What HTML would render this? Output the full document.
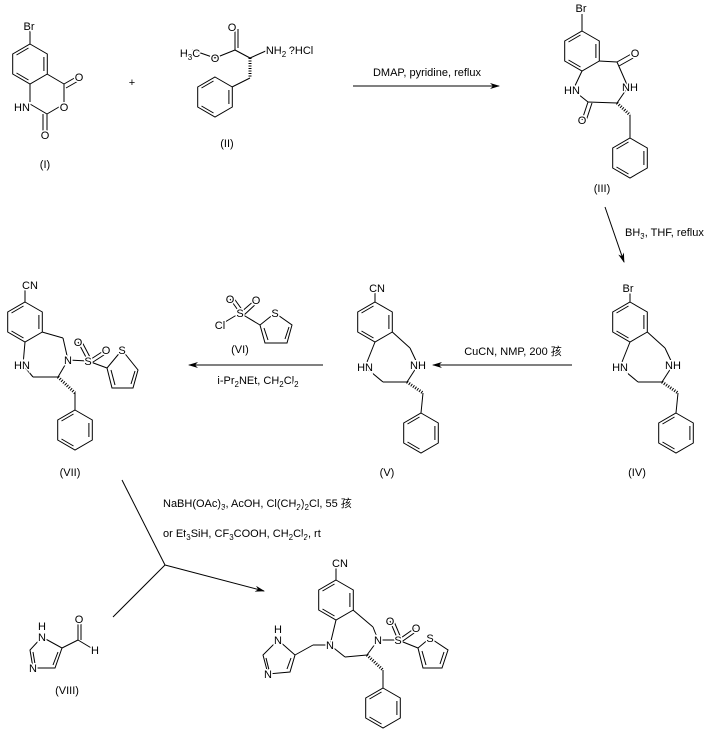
<!DOCTYPE html>
<html><head><meta charset="utf-8"><style>
html,body{margin:0;padding:0;background:#fff}
svg{display:block}
text{font-family:"Liberation Sans","Noto Sans CJK SC",sans-serif;font-size:11px;fill:#000;stroke:#fff;stroke-width:3px;paint-order:stroke;text-anchor:middle}
.l{text-anchor:start}
line,polyline,polygon{stroke:#000;stroke-width:1;fill:none}
.h{stroke-width:3;stroke-dasharray:1 1.5}
</style></head><body>
<svg width="705" height="740" viewBox="0 0 705 740" xmlns="http://www.w3.org/2000/svg">
<defs>
<g id="bz">
<polygon points="0,-20 17.3,-10 17.3,10 0,20 -17.3,10 -17.3,-10"/>
<line x1="13.9" y1="-7" x2="13.9" y2="7"/>
<line x1="-1.5" y1="16" x2="-13.5" y2="9"/>
<line x1="-13.5" y1="-9" x2="-1.5" y2="-16"/>
</g>
<marker id="ah" markerWidth="10" markerHeight="6" refX="9" refY="3" orient="auto" markerUnits="userSpaceOnUse"><path d="M0,0 L10,3 L0,6 L3,3 z" fill="#000"/></marker>
<g id="core">
<line x1="17.3" y1="10" x2="35" y2="26"/>
<line x1="35" y1="26" x2="43" y2="43"/>
<line x1="43" y1="43" x2="32" y2="60"/>
<line x1="32" y1="60" x2="8" y2="60"/>
<line x1="8" y1="60" x2="-10" y2="45"/>
<line x1="-10" y1="45" x2="0" y2="20"/>
<line class="h" x1="32" y1="60" x2="48" y2="71"/>
<line x1="48" y1="71" x2="46" y2="91"/>
<use href="#bz" x="46" y="111"/>
<text x="43" y="47">NH</text>
<text x="-10" y="49">HN</text>
</g>
</defs>

<!-- Compound I -->
<use href="#bz" x="30" y="64"/>
<line x1="30" y1="44" x2="30" y2="30"/>
<line x1="47" y1="74" x2="64" y2="84"/>
<line x1="64" y1="84" x2="64" y2="104"/>
<line x1="64" y1="104" x2="47" y2="114"/>
<line x1="47" y1="114" x2="30" y2="104"/>
<line x1="30" y1="104" x2="30" y2="84"/>
<line x1="64" y1="84" x2="78" y2="76"/><line x1="66" y1="88" x2="80" y2="80"/>
<line x1="47" y1="114" x2="47" y2="132"/><line x1="43" y1="114" x2="43" y2="132"/>
<text x="29" y="30">Br</text>
<text x="79" y="81">O</text>
<text x="64" y="111">O</text>
<text x="45" y="139">O</text>
<text x="22" y="111">HN</text>
<text x="45" y="168">(I)</text>
<text x="132" y="86">+</text>

<!-- Compound II -->
<line x1="192" y1="50" x2="215" y2="58"/>
<line x1="215" y1="58" x2="235" y2="50"/>
<line x1="235" y1="50" x2="235" y2="29"/><line x1="238" y1="48" x2="238" y2="29"/>
<line x1="235" y1="50" x2="250" y2="58"/>
<line x1="250" y1="58" x2="268" y2="50"/>
<line class="h" x1="250" y1="58" x2="250" y2="78"/>
<line x1="250" y1="78" x2="232" y2="87"/>
<use href="#bz" x="215" y="97"/>
<text x="190" y="57">H<tspan font-size="8" dy="3">3</tspan><tspan dy="-3">C</tspan></text>
<text x="215" y="62">O</text>
<text x="232" y="31">O</text>
<text x="276" y="54">NH<tspan font-size="8" dy="3">2</tspan></text>
<text x="301" y="54">?HCl</text>
<text x="227" y="147">(II)</text>

<!-- arrow 1 -->
<line x1="353" y1="86" x2="499" y2="86" marker-end="url(#ah)"/>
<text x="427" y="76">DMAP, pyridine, reflux</text>

<!-- Compound III -->
<use href="#bz" x="582" y="51"/>
<line x1="582" y1="31" x2="582" y2="14"/>
<line x1="599" y1="61" x2="617" y2="62"/>
<line x1="617" y1="62" x2="633" y2="53"/><line x1="619" y1="66" x2="635" y2="57"/>
<line x1="617" y1="62" x2="628" y2="87"/>
<line x1="628" y1="87" x2="617" y2="103"/>
<line class="h" x1="617" y1="103" x2="630" y2="115"/>
<line x1="617" y1="103" x2="588" y2="102"/>
<line x1="588" y1="102" x2="582" y2="120"/><line x1="592" y1="103" x2="586" y2="121"/>
<line x1="588" y1="102" x2="573" y2="90"/>
<line x1="573" y1="90" x2="582" y2="71"/>
<line x1="630" y1="115" x2="630" y2="138"/>
<use href="#bz" x="630" y="158"/>
<text x="581" y="12">Br</text>
<text x="635" y="57">O</text>
<text x="630" y="91">NH</text>
<text x="582" y="124">O</text>
<text x="572" y="94">HN</text>
<text x="602" y="192">(III)</text>

<!-- BH3 arrow -->
<line x1="605" y1="207" x2="624" y2="262" marker-end="url(#ah)"/>
<text class="l" x="625" y="236">BH<tspan font-size="8" dy="3">3</tspan><tspan dy="-3">, THF, reflux</tspan></text>

<!-- Compound V -->
<g transform="translate(375,322)">
<use href="#bz" x="0" y="0"/>
<use href="#core" x="0" y="0"/>
<line x1="0" y1="-20" x2="0" y2="-30"/>
<text x="2" y="-30">CN</text>
<text x="12" y="154">(V)</text>
</g>
<!-- Compound IV -->
<g transform="translate(630,322)">
<use href="#bz" x="0" y="0"/>
<use href="#core" x="0" y="0"/>
<line x1="0" y1="-20" x2="0" y2="-30"/>
<text x="-2" y="-30">Br</text>
<text x="7" y="154">(IV)</text>
</g>

<!-- arrow 2 -->
<line x1="572" y1="365" x2="433" y2="365" marker-end="url(#ah)"/>
<text x="513" y="355">CuCN, NMP, 200 孩</text>

<!-- VI reagent -->
<line x1="220" y1="325" x2="240" y2="313"/>
<line x1="240" y1="313" x2="230" y2="299"/><line x1="243" y1="311" x2="233" y2="297"/>
<line x1="240" y1="313" x2="255" y2="300"/><line x1="243" y1="316" x2="257" y2="303"/>
<line x1="240" y1="313" x2="260" y2="325"/>
<polygon points="275,313 260,325 265,343 287,343 292,325"/>
<line x1="264" y1="328" x2="268" y2="340"/>
<line x1="285" y1="339" x2="289" y2="327"/>
<text x="220" y="329">Cl</text>
<text x="240" y="317">S</text>
<text x="230" y="303">O</text>
<text x="256" y="304">O</text>
<text x="275" y="317">S</text>
<text x="240" y="353">(VI)</text>

<!-- arrow 3 -->
<line x1="323" y1="365" x2="189" y2="365" marker-end="url(#ah)"/>
<text x="258" y="384">i-Pr<tspan font-size="8" dy="3">2</tspan><tspan dy="-3">NEt, CH</tspan><tspan font-size="8" dy="3">2</tspan><tspan dy="-3">Cl</tspan><tspan font-size="8" dy="3">2</tspan></text>

<!-- Compound VII -->
<use href="#bz" x="25" y="322"/>
<line x1="25" y1="302" x2="25" y2="290"/>
<line x1="42" y1="332" x2="63" y2="338"/>
<line x1="63" y1="338" x2="68" y2="360"/>
<line x1="68" y1="360" x2="88" y2="361"/>
<line x1="88" y1="361" x2="78" y2="342"/><line x1="91" y1="359" x2="81" y2="340"/>
<line x1="88" y1="361" x2="105" y2="350"/><line x1="90" y1="364" x2="107" y2="353"/>
<line x1="88" y1="361" x2="107" y2="368"/>
<polygon points="122,350 107,368 112,388 133,388 138,370"/>
<line x1="111" y1="370" x2="115" y2="385"/>
<line x1="131" y1="384" x2="135" y2="371"/>
<line x1="68" y1="360" x2="58" y2="377"/>
<line x1="58" y1="377" x2="33" y2="377"/>
<line x1="33" y1="377" x2="23" y2="365"/>
<line x1="23" y1="365" x2="25" y2="342"/>
<line class="h" x1="58" y1="377" x2="75" y2="393"/>
<line x1="75" y1="393" x2="75" y2="410"/>
<use href="#bz" x="75" y="430"/>
<text x="30" y="289">CN</text>
<text x="68" y="364">N</text>
<text x="88" y="365">S</text>
<text x="78" y="346">O</text>
<text x="106" y="354">O</text>
<text x="122" y="354">S</text>
<text x="22" y="369">HN</text>
<text x="70" y="476">(VII)</text>

<!-- reaction 4 -->
<line x1="122" y1="480" x2="165" y2="565"/>
<line x1="113" y1="617" x2="165" y2="565"/>
<line x1="165" y1="565" x2="264" y2="591" marker-end="url(#ah)"/>
<text class="l" x="163" y="507">NaBH(OAc)<tspan font-size="8" dy="3">3</tspan><tspan dy="-3">, AcOH, Cl(CH</tspan><tspan font-size="8" dy="3">2</tspan><tspan dy="-3">)</tspan><tspan font-size="8" dy="3">2</tspan><tspan dy="-3">Cl, 55 孩</tspan></text>
<text class="l" x="163" y="537">or  Et<tspan font-size="8" dy="3">3</tspan><tspan dy="-3">SiH, CF</tspan><tspan font-size="8" dy="3">3</tspan><tspan dy="-3">COOH, CH</tspan><tspan font-size="8" dy="3">2</tspan><tspan dy="-3">Cl</tspan><tspan font-size="8" dy="3">2</tspan><tspan dy="-3">, rt</tspan></text>

<!-- VIII -->
<polygon points="42,637 62,648 55,668 33,668 30,650"/>
<line x1="58" y1="652" x2="53" y2="665"/>
<line x1="33" y1="652" x2="35" y2="664"/>
<line x1="62" y1="648" x2="78" y2="640"/>
<line x1="78" y1="640" x2="78" y2="621"/><line x1="81" y1="640" x2="81" y2="621"/>
<line x1="78" y1="640" x2="93" y2="649"/>
<text x="42" y="641">N</text>
<text x="42" y="630">H</text>
<text x="33" y="672">N</text>
<text x="79" y="623">O</text>
<text x="95" y="654">H</text>
<text x="67" y="694">(VIII)</text>

<!-- Product -->
<use href="#bz" x="336" y="600"/>
<line x1="336" y1="580" x2="336" y2="568"/>
<line x1="353" y1="610" x2="373" y2="627"/>
<line x1="373" y1="627" x2="378" y2="640"/>
<line x1="378" y1="640" x2="398" y2="640"/>
<line x1="398" y1="640" x2="390" y2="621"/><line x1="401" y1="638" x2="393" y2="619"/>
<line x1="398" y1="640" x2="415" y2="628"/><line x1="400" y1="643" x2="417" y2="631"/>
<line x1="398" y1="640" x2="418" y2="648"/>
<polygon points="430,638 418,648 423,668 442,668 448,650"/>
<line x1="422" y1="651" x2="426" y2="665"/>
<line x1="440" y1="664" x2="444" y2="652"/>
<line x1="378" y1="640" x2="367" y2="655"/>
<line x1="367" y1="655" x2="345" y2="657"/>
<line x1="345" y1="657" x2="330" y2="645"/>
<line x1="330" y1="645" x2="336" y2="620"/>
<line x1="330" y1="645" x2="313" y2="645"/>
<line x1="313" y1="645" x2="295" y2="655"/>
<polygon points="278,640 295,655 290,672 268,674 263,655"/>
<line x1="291" y1="658" x2="287" y2="669"/>
<line x1="266" y1="658" x2="269" y2="670"/>
<line class="h" x1="367" y1="655" x2="383" y2="670"/>
<line x1="383" y1="670" x2="383" y2="688"/>
<use href="#bz" x="383" y="708"/>
<text x="340" y="567">CN</text>
<text x="378" y="644">N</text>
<text x="398" y="644">S</text>
<text x="390" y="625">O</text>
<text x="416" y="632">O</text>
<text x="430" y="642">S</text>
<text x="330" y="649">N</text>
<text x="278" y="644">N</text>
<text x="278" y="633">H</text>
<text x="268" y="678">N</text>
</svg>
</body></html>
